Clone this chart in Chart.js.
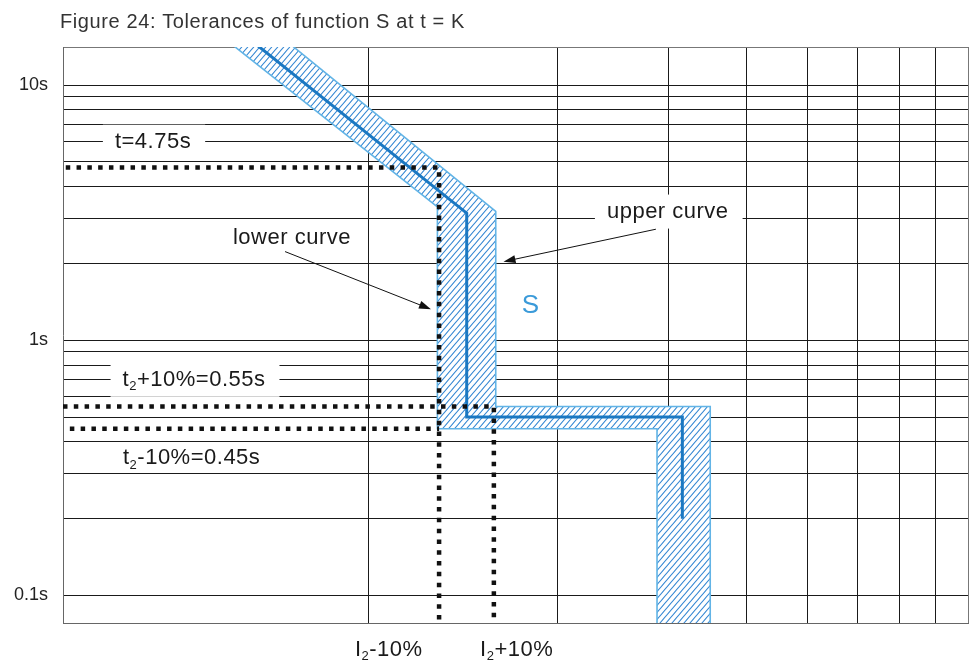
<!DOCTYPE html>
<html>
<head>
<meta charset="utf-8">
<script src="https://cdn.jsdelivr.net/npm/chart.js@4.4.0/dist/chart.umd.min.js"></script>
<style>
html, body { margin: 0; padding: 0; background: #fff; }
#wrap { width: 969px; height: 663px; }
</style>
</head>
<body>
<div id="wrap"><canvas id="chart" width="969" height="663"></canvas></div>
<script>
// axis ranges: current (multiples) on x, trip time in s on y
var xMin = 0.3267, xMax = 9;
var yMin = 0.078, yMax = 14.1;

var xGridValues = [1, 2, 3, 4, 5, 6, 7, 8, 9];
var yGridValues = [0.1, 0.2, 0.3, 0.4, 0.5, 0.6, 0.7, 0.8, 0.9,
                   1, 2, 3, 4, 5, 6, 7, 8, 9, 10];
var yLabelValues = [0.1, 1, 10];
var yLabelTexts = ['0.1s', '1s', '10s'];

// nominal curve S
var curveX = [0.562, 1.434, 1.434, 3.16, 3.16];
var curveY = [20, 3.15, 0.5, 0.5, 0.2];

// tolerance band outline: upper curve down, then lower curve back up
var bandX = [0.639, 1.595, 1.595, 3.50, 3.50, 2.88, 2.88, 1.288, 1.288, 0.513];
var bandY = [20, 3.2, 0.55, 0.55, 0.05, 0.05, 0.45, 0.45, 3.33, 20];

// dotted reading lines
var t475X = [0.33, 1.296, 1.296];
var t475Y = [4.75, 4.75, 0.05];
var t055X = [0.3267, 1.584, 1.584];
var t055Y = [0.55, 0.55, 0.05];
var t045X = [0.335, 1.296];
var t045Y = [0.45, 0.45];

var FONT = '"Liberation Sans", Arial, sans-serif';

function pts(xs, ys) {
    return xs.map(function (x, i) { return { x: x, y: ys[i] }; });
}

// labels placed in data coordinates
var labels = [
    { parts: [['t=4.75s', 0]], x: 0.3951, y: 6, box: true },
    { parts: [['t', 0], ['2', 1], ['+10%=0.55s', 0]], x: 0.4064, y: 0.7, box: true },
    { parts: [['t', 0], ['2', 1], ['-10%=0.45s', 0]], x: 0.407, y: 0.3446, box: false },
    { parts: [['lower curve', 0]], x: 0.609, y: 2.52, box: false },
    { parts: [['upper curve', 0]], x: 2.397, y: 3.194, box: true },
    { parts: [['I', 0], ['2', 1], ['-10%', 0]], x: 0.952, y: 0.061, box: false },
    { parts: [['I', 0], ['2', 1], ['+10%', 0]], x: 1.506, y: 0.061, box: false }
];
var arrows = [
    { x1: 0.737, y1: 2.226, x2: 1.258, y2: 1.323 },
    { x1: 2.868, y1: 2.724, x2: 1.641, y2: 2.033 }
];

function richWidth(c, parts, size) {
    var w = 0;
    parts.forEach(function (p) {
        c.font = (p[1] ? Math.round(size * 0.6) : size) + 'px ' + FONT;
        w += c.measureText(p[0]).width;
    });
    return w;
}

function drawRich(c, parts, x, y, size) {
    parts.forEach(function (p) {
        c.font = (p[1] ? Math.round(size * 0.6) : size) + 'px ' + FONT;
        c.fillText(p[0], x, p[1] ? y + size * 0.3 : y);
        x += c.measureText(p[0]).width;
    });
}

var annotationPlugin = {
    id: 'annotations',
    beforeDatasetsDraw: function (chart) {
        var c = chart.ctx, xs = chart.scales.x, ys = chart.scales.y;
        c.save();
        c.letterSpacing = '0.5px';
        c.fillStyle = '#ffffff';
        labels.forEach(function (l) {
            if (!l.box) return;
            var px = xs.getPixelForValue(l.x), py = ys.getPixelForValue(l.y);
            var w = richWidth(c, l.parts, 22);
            c.fillRect(px - 12, py - 17, w + 26, 34);
        });
        c.restore();
    },
    afterDatasetsDraw: function (chart) {
        var c = chart.ctx, xs = chart.scales.x, ys = chart.scales.y;
        c.save();
        c.textBaseline = 'middle';
        c.textAlign = 'left';
        c.fillStyle = '#1a1a1a';
        c.letterSpacing = '0.5px';
        labels.forEach(function (l) {
            drawRich(c, l.parts, xs.getPixelForValue(l.x), ys.getPixelForValue(l.y), 22);
        });

        // S marker
        c.fillStyle = '#3a9ad9';
        c.font = '26px ' + FONT;
        c.textAlign = 'center';
        c.fillText('S', xs.getPixelForValue(1.813), ys.getPixelForValue(1.369));

        // arrows
        c.strokeStyle = '#111';
        c.fillStyle = '#111';
        c.lineWidth = 1;
        arrows.forEach(function (a) {
            var x1 = xs.getPixelForValue(a.x1), y1 = ys.getPixelForValue(a.y1);
            var x2 = xs.getPixelForValue(a.x2), y2 = ys.getPixelForValue(a.y2);
            var ang = Math.atan2(y2 - y1, x2 - x1);
            c.beginPath();
            c.moveTo(x1, y1);
            c.lineTo(x2 - 10 * Math.cos(ang), y2 - 10 * Math.sin(ang));
            c.stroke();
            c.beginPath();
            c.moveTo(x2, y2);
            c.lineTo(x2 - 12 * Math.cos(ang) + 4 * Math.sin(ang), y2 - 12 * Math.sin(ang) - 4 * Math.cos(ang));
            c.lineTo(x2 - 12 * Math.cos(ang) - 4 * Math.sin(ang), y2 - 12 * Math.sin(ang) + 4 * Math.cos(ang));
            c.closePath();
            c.fill();
        });

        // title
        c.textAlign = 'left';
        c.fillStyle = '#333';
        c.letterSpacing = '0.6px';
        c.font = '20px ' + FONT;
        c.fillText('Figure 24: Tolerances of function S at t = K', 60, 22);
        c.restore();
    }
};

// hatch pattern for the tolerance band (white ground, blue diagonals)
var hatch = document.createElement('canvas');
hatch.width = 6;
hatch.height = 7;
var hc = hatch.getContext('2d');
hc.fillStyle = '#ffffff';
hc.fillRect(0, 0, 6, 7);
hc.strokeStyle = '#3386d2';
hc.lineWidth = 1.1;
hc.beginPath();
hc.moveTo(0, 7); hc.lineTo(6, 0);
hc.moveTo(-1, 1.17); hc.lineTo(1, -1.17);
hc.moveTo(5, 8.17); hc.lineTo(7, 5.83);
hc.stroke();

var ctx = document.getElementById('chart').getContext('2d');
var hatchPattern = ctx.createPattern(hatch, 'repeat');

var dotted = { showLine: true, borderColor: '#111', borderWidth: 4.5, borderDash: [4.5, 6.3], pointRadius: 0, fill: false };

var myChart = new Chart(ctx, {
    type: 'scatter',
    data: {
        datasets: [
            Object.assign({ label: 't=4.75s', data: pts(t475X, t475Y) }, dotted),
            Object.assign({ label: 't2+10%', data: pts(t055X, t055Y) }, dotted),
            Object.assign({ label: 't2-10%', data: pts(t045X, t045Y) }, dotted),
            {
                label: 'S',
                data: pts(curveX, curveY),
                showLine: true,
                borderColor: '#1b78c2',
                borderWidth: 3,
                pointRadius: 0,
                fill: false
            },
            {
                label: 'tolerance',
                data: pts(bandX, bandY),
                showLine: true,
                borderColor: '#62b4e6',
                borderWidth: 1.6,
                backgroundColor: hatchPattern,
                fill: 'shape',
                pointRadius: 0
            }
        ]
    },
    options: {
        responsive: false,
        animation: false,
        layout: { padding: { top: 47, right: 1, bottom: 40, left: 0 } },
        plugins: {
            legend: { display: false },
            tooltip: { enabled: false }
        },
        scales: {
            x: {
                type: 'logarithmic',
                min: xMin,
                max: xMax,
                bounds: 'data',
                afterBuildTicks: function (scale) {
                    scale.ticks = xGridValues.map(function (v) { return { value: v }; });
                },
                afterFit: function (scale) { scale.height = 0; },
                ticks: { display: false, autoSkip: false },
                grid: {
                    drawTicks: false,
                    lineWidth: 1,
                    color: function (c) { return c.tick && c.tick.value === xMax ? '#777' : '#1a1a1a'; }
                },
                border: { color: '#666', width: 1 }
            },
            y: {
                type: 'logarithmic',
                min: yMin,
                max: yMax,
                bounds: 'data',
                afterBuildTicks: function (scale) {
                    scale.ticks = yGridValues.concat([yMax]).map(function (v) { return { value: v }; });
                },
                afterFit: function (scale) { scale.width = 63; },
                ticks: {
                    autoSkip: false,
                    padding: 15,
                    color: '#222',
                    font: { family: FONT, size: 18 },
                    callback: function (v) {
                        var i = yLabelValues.indexOf(v);
                        return i >= 0 ? yLabelTexts[i] : '';
                    }
                },
                grid: {
                    drawTicks: false,
                    lineWidth: 1,
                    color: function (c) { return c.tick && c.tick.value === yMax ? '#777' : '#1a1a1a'; }
                },
                border: { color: '#666', width: 1 }
            }
        }
    },
    plugins: [annotationPlugin]
});
</script>
</body>
</html>
